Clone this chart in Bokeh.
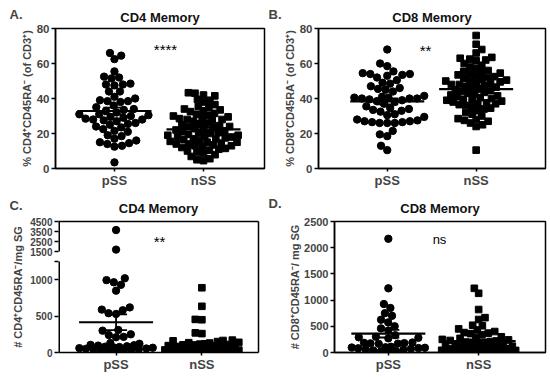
import numpy as np
from bokeh.plotting import figure
from bokeh.layouts import column, row
from bokeh.models import Range1d, FixedTicker, Label, LinearAxis, Title
from bokeh.embed import file_html
from bokeh.resources import INLINE

# ---------------- data ----------------
categories = ["pSS", "nSS"]
panel_letters = ["A.", "B.", "C.", "D."]
panel_titles = ["CD4 Memory", "CD8 Memory", "CD4 Memory", "CD8 Memory"]
y_labels = ["% CD4\u207aCD45RA\u207b (of CD3\u207a)",
            "% CD8\u207aCD45RA\u207b (of CD3\u207a)",
            "# CD4\u207aCD45RA\u207b/mg SG",
            "# CD8\u207aCD45RA\u207b/ mg SG"]
significance = ["****", "**", "**", "ns"]

a_pss = [66, 64.5, 62.5, 55.5, 52.5, 52, 51.5, 48.5, 48, 48, 47.5, 44, 44, 41, 40,
         39, 38.5, 38.5, 38, 36, 35, 34, 33.5, 33, 32, 31, 31, 30.5, 30, 29.5, 29,
         28.5, 28, 28, 27.5, 27, 26, 25.5, 25, 24, 23.5, 22.5, 21.5, 21, 19, 18.5,
         17, 16, 15, 14.5, 14, 13, 12.5, 3.5]
a_nss = [43.3, 43, 42, 41.5, 39.5, 39, 38, 36.5, 35.5, 35, 34, 33.5, 33, 32.5, 31.5,
         31, 30.5, 30, 29.5, 29, 28.5, 28, 28, 27.5, 27, 26, 25.5, 25, 24.5, 24, 24,
         23.5, 23, 22.5, 22, 21.5, 21, 20.5, 20, 20, 19.5, 19, 19, 18.5, 18, 18,
         17.5, 17, 17, 16.5, 16, 15.5, 15, 15, 14.5, 14, 14, 13.5, 13, 13, 12.5, 12,
         11.5, 11, 10.5, 10, 9.4, 8.8, 7.9, 6.9, 5.6, 5, 4.5]
b_pss = [68, 60, 58.5, 55.5, 54.5, 54, 54, 53.5, 53, 52, 50.5, 49, 48.5, 47, 46,
         45.5, 45, 44, 41.5, 41, 40.5, 40.5, 40, 40, 40, 39.5, 39, 38.5, 38, 37,
         35.5, 34.5, 34, 33.5, 33, 32.5, 31, 30.5, 29.5, 28, 27.5, 27, 27, 26.5,
         26.5, 26, 26, 26, 21.5, 19.5, 18.5, 13, 10.5]
b_nss = [76, 71, 68, 66, 63.5, 63, 62.5, 62, 61.5, 60, 59, 58, 57, 56, 55.5, 55,
         54.5, 54, 53.5, 53, 52.5, 52, 51.5, 51, 50.5, 50, 50, 49.5, 49, 48.5, 48,
         48, 47.5, 47, 46.5, 46, 45.5, 45, 44.5, 44, 43.5, 43, 42.5, 42, 41.5, 41,
         40.5, 40, 39.5, 39, 39, 38.5, 38, 37.5, 37, 37, 36.5, 36, 35, 34.5, 34, 33,
         32, 31, 30, 28.5, 28, 27.5, 27, 26, 25, 24, 10.5]
c_pss = [3650, 1700, 1020, 995, 965, 930, 850, 620, 590, 580, 540, 530, 310, 300,
         250, 240, 215, 210, 130, 120, 105, 100, 95, 85, 80, 75, 70, 65, 60, 55, 50,
         45, 40, 35, 30, 25, 20, 15]
c_nss = [890, 635, 455, 450, 270, 260, 170, 165, 160, 150, 140, 135, 130, 120, 115,
         110, 105, 100, 95, 90, 85, 80, 75, 70, 65, 60, 55, 50, 45, 40, 35, 30, 25,
         20, 15, 10, 5, 8, 12, 18, 22, 28, 32, 38, 42, 48, 52, 58, 62, 68]
d_pss = [2170, 1225, 925, 850, 750, 700, 625, 575, 500, 460, 420, 330, 300, 290,
         280, 270, 190, 185, 180, 175, 170, 165, 110, 100, 95, 90, 85, 80, 70, 60,
         50, 40, 30, 20, 10]
d_nss = [1225, 1130, 820, 665, 630, 520, 510, 450, 430, 400, 380, 370, 360, 340,
         300, 285, 270, 250, 240, 230, 220, 210, 200, 190, 180, 170, 160, 150, 140,
         130, 120, 110, 100, 90, 80, 70, 60, 50, 45, 40, 35, 30, 25, 20, 15, 10, 5,
         12, 18, 22, 28, 32, 38, 42, 48, 55, 62, 68, 75, 85]

ab_ticks = [0, 20, 40, 60, 80]
c_low_ticks = [0, 500, 1000]
c_high_ticks = [1500, 2500, 3500, 4500]
c_break = [1250, 1500]
d_ticks = [0, 500, 1000, 1500, 2000, 2500]

FONT = "Liberation Sans"

# broken-axis transform for panel C (upper segment compressed)
C_GAP = 137.0
C_K = 0.138


def c_tf(v):
    v = np.asarray(v, float)
    return np.where(v <= c_break[0], v,
                    c_break[0] + C_GAP + (v - c_break[1]) * C_K)


def swarm(ypx, d, limit):
    ypx = np.asarray(ypx, float)
    order = np.argsort(ypx, kind="stable")
    xs = np.zeros(len(ypx))
    px_l, py_l = [], []
    flip = 1
    for i in order:
        y = ypx[i]
        dd = d
        while True:
            near = [(a, b) for a, b in zip(px_l, py_l) if abs(b - y) < dd]
            cands = [0.0]
            for a, b in near:
                dx = np.sqrt(max(dd * dd - (b - y) ** 2, 0))
                cands += [a + dx, a - dx]
            cands = sorted(cands, key=lambda c: (round(abs(c), 3), -flip * c))
            chosen = None
            for c in cands:
                if abs(c) > limit:
                    continue
                if all((c - a) ** 2 + (y - b) ** 2 >= dd * dd - 1e-6 for a, b in near):
                    chosen = c
                    break
            if chosen is not None:
                break
            dd *= 0.85
        flip = -flip
        xs[i] = chosen
        px_l.append(chosen)
        py_l.append(y)
    return xs


def make_panel(idx, pss, nss, fw, fh, bl, br, bt, bb, xr, yr, ticks, tick_labels,
               tick_font, transform=None, sig_pos=(0, 0), sig_size="15px",
               label_standoff=3, broken=False, letter_offset=-46,
               letter_standoff=-36, title_standoff=8):
    p = figure(width=bl + fw + br, height=bt + fh + bb, output_backend="svg",
               toolbar_location=None, x_range=Range1d(*xr), y_range=Range1d(*yr),
               min_border_left=bl, min_border_right=br, min_border_top=bt,
               min_border_bottom=bb, title=None)
    p.background_fill_color = "white"
    p.border_fill_color = "white"
    p.xgrid.visible = False
    p.ygrid.visible = False
    kx = (xr[1] - xr[0]) / fw
    ky = fh / (yr[1] - yr[0])
    tf = transform if transform is not None else (lambda v: np.asarray(v, float))

    groups = [(pss, "circle", 7.4, 7.6), (nss, "square", 6.6, 6.6)]
    for gi, (vals, marker, size, dist) in enumerate(groups):
        cat = gi + 1
        yv = tf(vals)
        xs = swarm(yv * ky, dist, 37)
        p.scatter(cat + xs * kx, yv, marker=marker, size=size, color="black")
    for gi, (vals, marker, size, dist) in enumerate(groups):
        cat = gi + 1
        arr = np.asarray(vals, float)
        m = arr.mean()
        sem = arr.std(ddof=1) / np.sqrt(len(arr))
        hw = 37 * kx
        cw = 11 * kx
        mt, lo, hi = float(tf(m)), float(tf(m - sem)), float(tf(m + sem))
        p.segment(x0=[cat - hw], x1=[cat + hw], y0=[mt], y1=[mt],
                  line_color="black", line_width=2.2)
        p.segment(x0=[cat, cat - cw, cat - cw], x1=[cat, cat + cw, cat + cw],
                  y0=[lo, lo, hi], y1=[hi, lo, hi], line_color="black", line_width=1.8)

    xa = p.xaxis[0]
    xa.ticker = FixedTicker(ticks=[1, 2])
    xa.major_label_overrides = {1: categories[0], 2: categories[1]}
    xa.major_label_text_font = FONT
    xa.major_label_text_font_style = "bold"
    xa.major_label_text_font_size = "13px"
    xa.major_label_standoff = 1
    xa.major_tick_in = 0
    xa.major_tick_out = 3
    xa.minor_tick_line_color = None
    xa.axis_line_width = 1.5
    xa.major_tick_line_width = 1.5

    ya = p.yaxis[0]
    ya.ticker = FixedTicker(ticks=list(ticks))
    ya.major_label_overrides = {t: l for t, l in zip(ticks, tick_labels)}
    ya.major_label_text_font = FONT
    ya.major_label_text_font_style = "bold"
    ya.major_label_text_font_size = tick_font
    ya.major_label_standoff = 2
    ya.major_tick_in = 0
    ya.major_tick_out = 4
    ya.minor_tick_line_color = None
    ya.axis_line_width = 1.5
    ya.major_tick_line_width = 1.5
    ya.axis_label = y_labels[idx]
    ya.axis_label_text_font = FONT
    ya.axis_label_text_font_style = "bold"
    ya.axis_label_text_font_size = "11px"
    ya.axis_label_standoff = label_standoff

    if broken:
        p.outline_line_color = None
        ya.axis_line_color = None
        for loc in ("above", "right"):
            ax = LinearAxis(ticker=FixedTicker(ticks=[]), major_tick_line_color=None,
                            minor_tick_line_color=None, major_label_text_font_size="0px",
                            axis_line_width=1.5)
            p.add_layout(ax, loc)
        low = c_tf([c_low_ticks[0], c_break[0]])
        high = c_tf([c_break[1], c_high_ticks[-1]])
        p.segment(x0=[xr[0], xr[0]], x1=[xr[0], xr[0]], y0=[low[0], high[0]],
                  y1=[low[1], high[1]], line_color="black", line_width=3)
    else:
        p.outline_line_color = "black"
        p.outline_line_width = 1.5

    p.add_layout(Title(text=panel_titles[idx], align="center", standoff=title_standoff,
                       text_font=FONT, text_font_size="13px",
                       text_font_style="bold", text_color="#111111"), "above")
    p.add_layout(Title(text=panel_letters[idx], align="left", offset=letter_offset,
                       standoff=letter_standoff, text_font=FONT,
                       text_font_size="13px", text_font_style="bold"), "above")

    p.add_layout(Label(x=sig_pos[0], y=sig_pos[1], x_units="screen",
                       y_units="screen", text=significance[idx], text_font=FONT,
                       text_font_size=sig_size, text_color="black",
                       text_align="center", text_baseline="alphabetic"))
    return p


pA = make_panel(0, a_pss, a_nss, 209, 140, 55, 2, 28, 22, (0.338, 2.685), (0, 80),
                ab_ticks, [str(t) for t in ab_ticks], "11.5px",
                sig_pos=(110, 119), label_standoff=1, letter_offset=-46,
                letter_standoff=-36, title_standoff=8)
pB = make_panel(1, b_pss, b_nss, 227, 140, 52, 5, 28, 22, (0.227, 2.78), (0, 80),
                ab_ticks, [str(t) for t in ab_ticks], "11.5px",
                sig_pos=(107, 118), label_standoff=1, letter_offset=-50,
                letter_standoff=-36, title_standoff=8)
c_tick_vals = list(c_tf(c_low_ticks + [c_break[0]] + c_high_ticks))
c_tick_labels = [str(t) for t in c_low_ticks] + [""] + [str(t) for t in c_high_ticks]
pC = make_panel(2, c_pss, c_nss, 200, 131, 58, 8, 31, 23, (0.329, 2.66),
                (0, float(c_tf(c_high_ticks[-1]))), c_tick_vals, c_tick_labels, "10px",
                transform=c_tf, sig_pos=(101, 111), label_standoff=3, broken=True,
                letter_offset=-49, letter_standoff=-41, title_standoff=12)
pD = make_panel(3, d_pss, d_nss, 211, 131, 68, 5, 31, 23, (0.404, 2.74), (0, 2500),
                d_ticks, [str(t) for t in d_ticks], "11px",
                sig_pos=(105, 113), sig_size="13px", label_standoff=0,
                letter_offset=-66, letter_standoff=-37, title_standoff=12)

layout = column(row(pA, pB), row(pC, pD))
open("out.html", "w").write(file_html(layout, INLINE))
